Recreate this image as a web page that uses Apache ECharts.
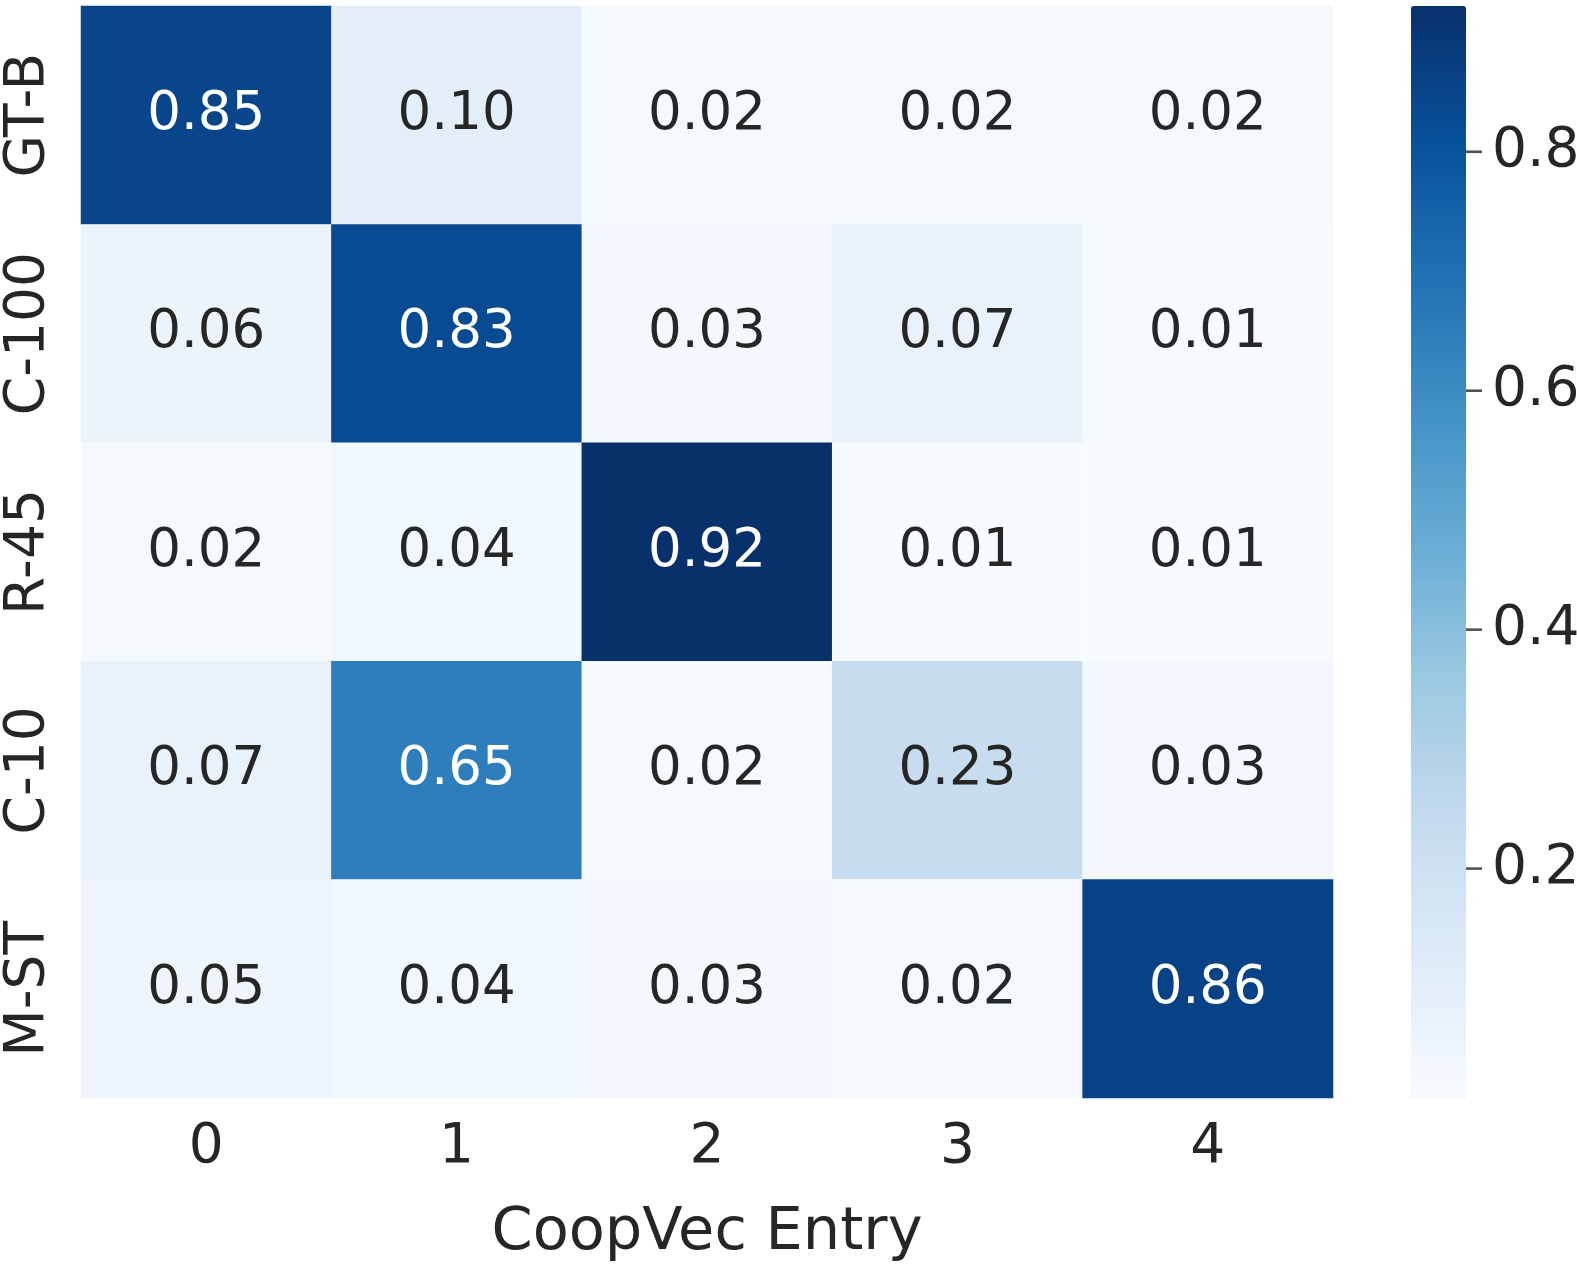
<!DOCTYPE html>
<html><head><meta charset="utf-8">
<script src="https://cdn.jsdelivr.net/npm/echarts@6/dist/echarts.min.js"></script>
<style>html,body{margin:0;padding:0;background:#fff}#c{width:1577px;height:1265px}</style>
</head><body><div id="c"></div>
<script>
const xCategories = ['0','1','2','3','4'];
const yCategories = ['GT-B','C-100','R-45','C-10','M-ST'];
const rowGTB  = [0.85, 0.10, 0.02, 0.02, 0.02];
const rowC100 = [0.06, 0.83, 0.03, 0.07, 0.01];
const rowR45  = [0.02, 0.04, 0.92, 0.01, 0.01];
const rowC10  = [0.07, 0.65, 0.02, 0.23, 0.03];
const rowMST  = [0.05, 0.04, 0.03, 0.02, 0.86];
const rows = [rowGTB, rowC100, rowR45, rowC10, rowMST];
const colorbarTicks = [0.2, 0.4, 0.6, 0.8];
const colorMin = 0.008, colorMax = 0.922;
const blues = ['#f7fbff','#deebf7','#c6dbef','#9ecae1','#6baed6','#4292c6','#2171b5','#08519c','#08306b'];

const FONT = 'DejaVu Sans';
const TXT = '#262626';
const data = [];
rows.forEach((r, yi) => r.forEach((v, xi) => {
  data.push({value: [xi, yi, v], label: {color: v > 0.5 ? '#ffffff' : TXT}});
}));

const chart = echarts.init(document.getElementById('c'), null, {renderer: 'canvas'});
chart.setOption({
  animation: false,
  backgroundColor: '#ffffff',
  grid: [
    {left: 81, right: 244, top: 6, bottom: 167, containLabel: false, outerBoundsMode: 'none'},
    {left: 1411, width: 55, top: 6, bottom: 167, containLabel: false, outerBoundsMode: 'none'}
  ],
  xAxis: [
    {type: 'category', data: xCategories, gridIndex: 0,
     axisLine: {show: false}, axisTick: {show: false}, splitLine: {show: false},
     axisLabel: {fontFamily: FONT, fontSize: 55, color: TXT, margin: 22},
     name: 'CoopVec Entry', nameLocation: 'middle', nameGap: 106,
     nameTextStyle: {fontFamily: FONT, fontSize: 59, color: TXT}},
    {type: 'value', gridIndex: 1, show: false, min: 0, max: 1}
  ],
  yAxis: [
    {type: 'category', data: yCategories, inverse: true, gridIndex: 0,
     axisLine: {show: false}, axisTick: {show: false}, splitLine: {show: false},
     axisLabel: {fontFamily: FONT, fontSize: 55, color: TXT, rotate: 90, margin: 25}},
    {type: 'value', gridIndex: 1, position: 'right', min: colorMin, max: colorMax,
     axisLine: {show: false}, splitLine: {show: false},
     axisTick: {show: false},
     axisLabel: {fontFamily: FONT, fontSize: 55, color: TXT, margin: 26, customValues: colorbarTicks,
       padding: [8, 0, 0, 0], formatter: v => v.toFixed(1)}}
  ],
  visualMap: {
    type: 'continuous', min: colorMin, max: colorMax, seriesIndex: 0,
    calculable: false, realtime: false, orient: 'vertical',
    left: 1411, top: 6, itemWidth: 55, itemHeight: 1092, padding: 0,
    text: null, showLabel: false,
    inRange: {color: blues}
  },
  series: [{
    type: 'heatmap', xAxisIndex: 0, yAxisIndex: 0, data: data,
    label: {show: true, fontFamily: FONT, fontSize: 53, formatter: p => p.value[2].toFixed(2)},
    itemStyle: {borderWidth: 0},
    emphasis: {disabled: true}
  }, {
    type: 'scatter', xAxisIndex: 1, yAxisIndex: 1, clip: false, silent: true,
    data: colorbarTicks.map(t => [1, t]),
    symbol: 'rect', symbolSize: [16, 2.6], symbolOffset: [8, 0],
    itemStyle: {color: TXT}
  }]
});
</script></body></html>
